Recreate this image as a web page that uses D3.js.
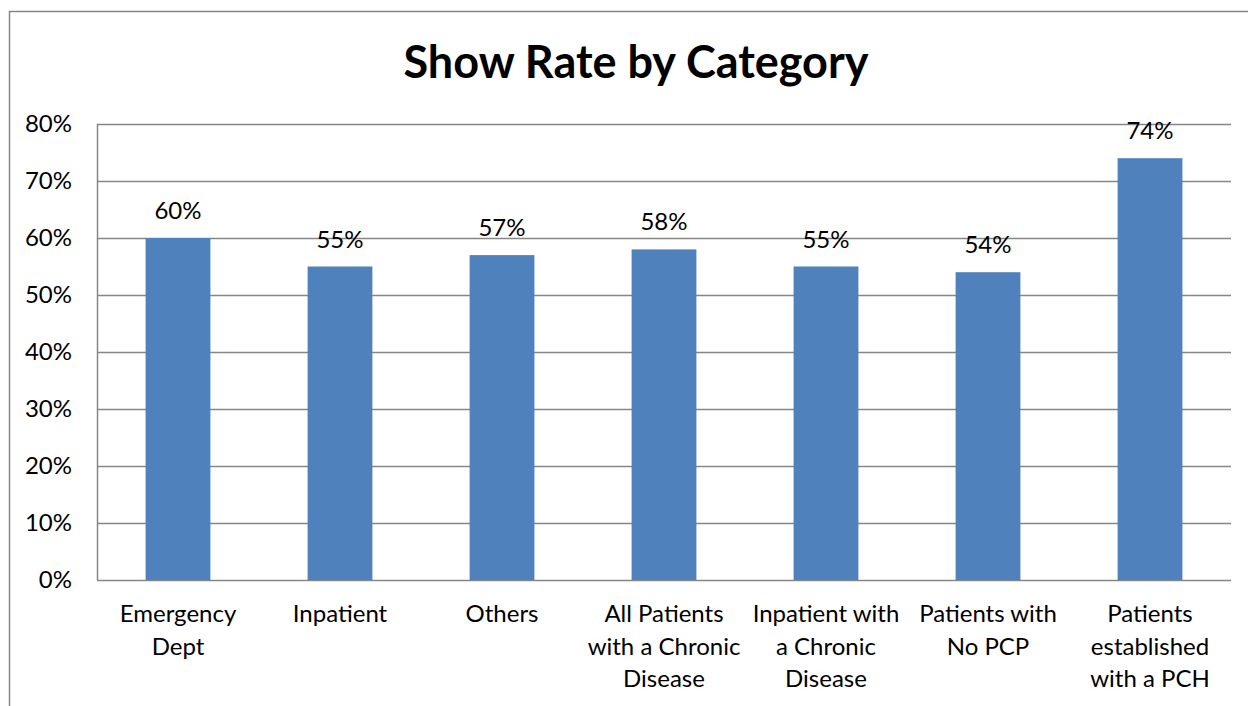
<!DOCTYPE html>
<meta charset="utf-8">
<style>
body { margin: 0; background: #fff; }
svg { display: block; font-family: Lato, "Open Sans", sans-serif; }
.grid line { stroke: #868686; stroke-width: 1.5px; }
.bar { fill: #4f81bd; }
.lbl { font-size: 24px; fill: #000; }
.title { font-size: 45px; font-weight: bold; fill: #000; }
</style>
<body>
<svg width="1248" height="706"></svg>
<script src="https://d3js.org/d3.v7.min.js"></script>
<script>

var categories = [
	["Emergency", "Dept"],
	["Inpatient"],
	["Others"],
	["All Patients", "with a Chronic", "Disease"],
	["Inpatient with", "a Chronic", "Disease"],
	["Patients with", "No PCP"],
	["Patients", "established", "with a PCH"]
];
var showRate = [0.60, 0.55, 0.57, 0.58, 0.55, 0.54, 0.74];
var yTicks = [0, 0.1, 0.2, 0.3, 0.4, 0.5, 0.6, 0.7, 0.8];
var chartTitle = "Show Rate by Category";

var svg = d3.select("svg"),
	plotLeft = 97, plotRight = 1231, plotTop = 124, plotBottom = 580;

// outer chart frame (runs off the page right and bottom)
svg.append("rect")
	.attr("x", 9.5).attr("y", 11.5)
	.attr("width", 1260).attr("height", 720)
	.attr("fill", "none").attr("stroke", "#868686").attr("stroke-width", 1.5);

svg.append("text")
	.attr("class", "title")
	.attr("x", 636).attr("y", 78)
	.attr("text-anchor", "middle")
	.text(chartTitle);

var x = d3.scaleBand()
	.domain(d3.range(categories.length))
	.range([plotLeft, plotRight])
	.paddingInner(0.6).paddingOuter(0.3);

var y = d3.scaleLinear().domain([0, 0.8]).range([plotBottom, plotTop]);

// gridlines
var grid = svg.append("g").attr("class", "grid");
grid.selectAll("line").data(yTicks).enter().append("line")
	.attr("x1", plotLeft).attr("x2", plotRight)
	.attr("y1", function(d) { return Math.round(y(d)) + 0.5; })
	.attr("y2", function(d) { return Math.round(y(d)) + 0.5; });
grid.append("line")
	.attr("x1", plotLeft + 0.5).attr("x2", plotLeft + 0.5)
	.attr("y1", plotTop).attr("y2", plotBottom);

// y axis labels
var fmt = d3.format(".0%");
svg.append("g").selectAll("text").data(yTicks).enter().append("text")
	.attr("class", "lbl")
	.attr("x", plotLeft - 25)
	.attr("y", function(d) { return y(d) + 8; })
	.attr("text-anchor", "end")
	.text(fmt);

// bars
svg.append("g").selectAll("rect").data(showRate).enter().append("rect")
	.attr("class", "bar")
	.attr("x", function(d, i) { return x(i); })
	.attr("y", function(d) { return y(d); })
	.attr("width", x.bandwidth())
	.attr("height", function(d) { return plotBottom - y(d); });

// value labels
svg.append("g").selectAll("text").data(showRate).enter().append("text")
	.attr("class", "lbl")
	.attr("x", function(d, i) { return x(i) + x.bandwidth() / 2; })
	.attr("y", function(d) { return y(d) - 19; })
	.attr("text-anchor", "middle")
	.text(fmt);

// category labels
var cat = svg.append("g").selectAll("text").data(categories).enter().append("text")
	.attr("class", "lbl")
	.attr("text-anchor", "middle")
	.attr("x", function(d, i) { return x(i) + x.bandwidth() / 2; })
	.attr("y", plotBottom + 42);
cat.selectAll("tspan").data(function(d) { return d; }).enter().append("tspan")
	.attr("x", function() { return this.parentNode.getAttribute("x"); })
	.attr("dy", function(d, i) { return i ? 32.5 : 0; })
	.text(function(d) { return d; });

</script>
</body>
